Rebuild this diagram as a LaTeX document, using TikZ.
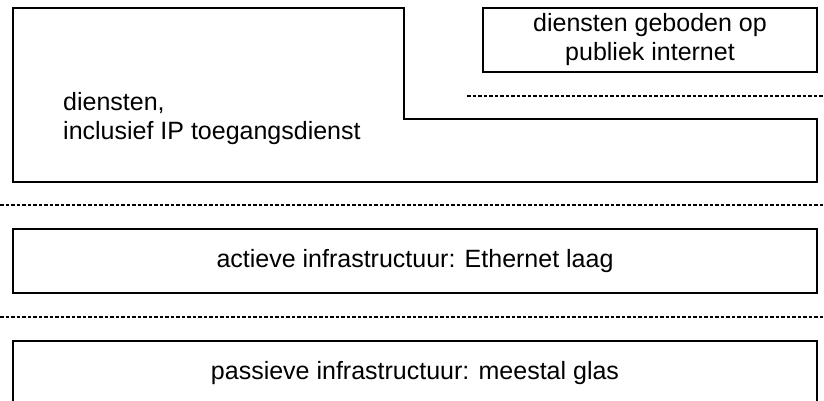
\documentclass[tikz,border=0pt]{standalone}
\usepackage{fontspec}
\setmainfont{Liberation Sans}
\begin{document}
\begin{tikzpicture}[x=1pt,y=-1pt,
  every node/.style={font=\fontsize{25}{29}\selectfont},
  layerbox/.style={draw,line width=1.6pt,inner sep=0pt,minimum width=804pt,minimum height=64pt,align=center},
  edge/.style={line width=1.6pt,line join=miter},
  sep/.style={line width=1.2pt,dash pattern=on 3.5pt off 2pt}]
\useasboundingbox (0,0) rectangle (824,401);
\clip (0,0) rectangle (824,401);
% L-shaped services area
\draw[edge] (13,8) -- (404,8) -- (404,119) -- (817,119) -- (817,182) -- (13,182) -- cycle;
\node[anchor=west,inner sep=0pt,align=left] (diensten) at (63,118.5) {diensten,\\inclusief IP toegangsdienst};
% public internet box
\node[draw,line width=1.6pt,inner sep=0pt,minimum width=334pt,minimum height=64pt,align=center] (publiek) at (650,40) {diensten geboden op\\publiek internet};
% separators
\coordinate (s1a) at (467,96);
\coordinate (s1b) at (824,96);
\coordinate (s2a) at (0,205);
\coordinate (s2b) at (824,205);
\coordinate (s3a) at (0,317);
\coordinate (s3b) at (824,317);
\draw[sep] (s1a) -- (s1b);
\draw[sep] (s2a) -- (s2b);
\draw[sep] (s3a) -- (s3b);
% layers
\node[layerbox] (actief) at (415,261) {actieve infrastructuur: Ethernet laag};
\node[layerbox] (passief) at (415,373) {passieve infrastructuur: meestal glas};
\end{tikzpicture}
\end{document}
